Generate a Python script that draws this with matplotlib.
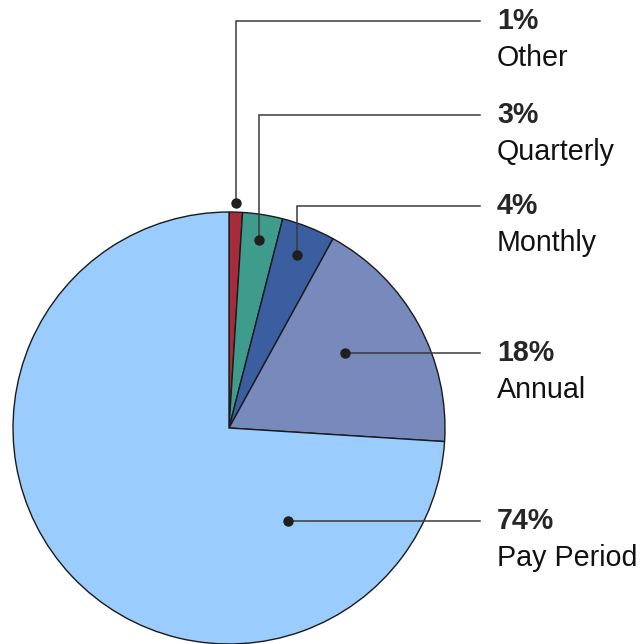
import numpy as np
import matplotlib.pyplot as plt

plt.rcParams['font.family'] = ['Liberation Sans', 'DejaVu Sans']

# data
labels = ["Other", "Quarterly", "Monthly", "Annual", "Pay Period"]
shares = [1, 3, 4, 18, 74]
colors = ["#A52D3B", "#3F9C8D", "#3A5E9F", "#7889BC", "#9ACCFE"]

# label layout (pixel rows of the percentage text) and dot placement
label_rows = [21, 115, 206, 353, 522]
dot_radius = [1.04, 0.88, 0.86, 0.64, 0.51]
dot_angle_shift = [0, 0, 0, 4, 79]   # degrees, counter-clockwise from wedge middle

W, H = 642, 644
fig = plt.figure(figsize=(W / 100, H / 100), dpi=100)
ax = fig.add_axes([0, 0, 1, 1])

cx, cy, r = 229, H - 428, 216
wedges, _ = ax.pie(shares, colors=colors, startangle=90, counterclock=False,
                   center=(cx, cy), radius=r, frame=True,
                   wedgeprops=dict(edgecolor="#1a1a1a", linewidth=1.0))
ax.set_xlim(0, W)
ax.set_ylim(0, H)
ax.set_aspect('equal')
ax.axis('off')

line_x = 480
text_x = 497
for w, lab, val, row, rf, sh in zip(wedges, labels, shares, label_rows,
                                     dot_radius, dot_angle_shift):
    mid = np.deg2rad((w.theta1 + w.theta2) / 2 + sh)
    px = cx + rf * r * np.cos(mid)
    py = cy + rf * r * np.sin(mid)
    ty = H - row
    if abs(py - ty) > 3:
        ax.plot([px, px, line_x], [py, ty, ty], color="#3a3a3a", lw=1.1,
                solid_joinstyle='miter', zorder=5)
    else:
        ty = py
        ax.plot([px, line_x], [py, py], color="#3a3a3a", lw=1.1, zorder=5)
    ax.plot(px, py, 'o', color="#1f1f1f", ms=6.5, zorder=6)
    ax.text(text_x, ty, f"{val}%", fontsize=20.6, fontweight='bold',
            color="#262626", va='center', ha='left')
    ax.text(text_x, ty - 37, lab, fontsize=20.6, color="#111111",
            va='center', ha='left')

fig.savefig("out.png", dpi=100)
